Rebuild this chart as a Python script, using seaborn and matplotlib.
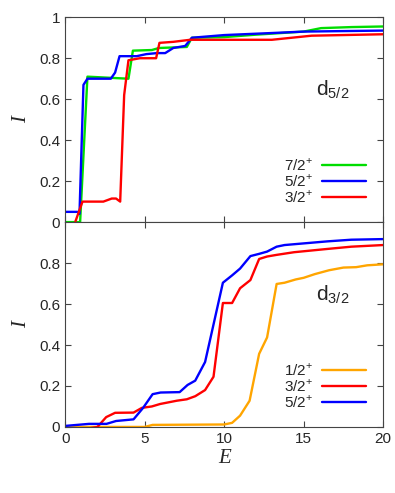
import matplotlib
matplotlib.use("Agg")
import matplotlib.pyplot as plt
import seaborn as sns
import pandas as pd

# d5/2 panel
e_72 = [0, 0.94, 1.4, 3.98, 4.26, 5.45, 5.9, 7.65, 7.97, 10, 12, 15, 16.1, 18, 20]
i_72 = [0, 0, 0.71, 0.70, 0.837, 0.84, 0.85, 0.855, 0.9, 0.903, 0.915, 0.93, 0.947, 0.952, 0.955]
e_52 = [0, 0.78, 0.9, 1.15, 1.4, 2.87, 3.14, 3.42, 4.5, 5.1, 5.77, 6.29, 6.8, 7.55, 7.97, 10, 13, 15, 20]
i_52 = [0.05, 0.05, 0.04, 0.67, 0.70, 0.70, 0.73, 0.81, 0.81, 0.82, 0.825, 0.825, 0.85, 0.86, 0.9, 0.913, 0.923, 0.93, 0.935]
e_32a = [0.63, 1.09, 2.4, 2.93, 3.2, 3.46, 3.71, 3.98, 4.7, 5.72, 5.93, 6.8, 7.86, 8.5, 13, 15.5, 20]
i_32a = [0, 0.1, 0.1, 0.115, 0.115, 0.10, 0.62, 0.79, 0.80, 0.80, 0.875, 0.88, 0.89, 0.89, 0.89, 0.91, 0.917]

# d3/2 panel
e_12 = [0, 5, 5.5, 10, 10.5, 11, 11.6, 12.2, 12.7, 13.3, 13.8, 14.5, 15, 15.7, 16.6, 17.5, 18.3, 19, 20]
i_12 = [0, 0, 0.01, 0.012, 0.02, 0.055, 0.128, 0.357, 0.437, 0.698, 0.704, 0.72, 0.728, 0.746, 0.765, 0.778, 0.78, 0.789, 0.794]
e_32b = [0.48, 1.26, 2.03, 2.58, 3.14, 4.3, 4.82, 5.45, 5.97, 7.02, 7.65, 8.18, 8.8, 9.33, 9.92, 10.5, 11, 11.65, 12.2, 12.7, 13.3, 14.4, 16.5, 18, 20]
i_32b = [-0.01, -0.01, 0, 0.048, 0.069, 0.07, 0.093, 0.10, 0.112, 0.128, 0.135, 0.15, 0.18, 0.245, 0.605, 0.605, 0.677, 0.717, 0.82, 0.832, 0.84, 0.853, 0.869, 0.88, 0.888]
e_52b = [0, 1.5, 2.6, 3.2, 4.3, 4.9, 5.5, 6.0, 7.2, 7.7, 8.18, 8.8, 9.33, 9.92, 10.5, 11, 11.65, 12.2, 12.7, 13.3, 13.8, 15, 16.5, 18, 20]
i_52b = [0.005, 0.015, 0.015, 0.029, 0.037, 0.093, 0.16, 0.168, 0.17, 0.205, 0.226, 0.317, 0.5, 0.704, 0.74, 0.773, 0.834, 0.845, 0.856, 0.88, 0.888, 0.896, 0.906, 0.914, 0.917]

colors = {"7/2$^{+}$": "#00dd00", "5/2$^{+}$": "#0000ff", "3/2$^{+}$": "#ff0000", "1/2$^{+}$": "#ffa500"}

top = pd.concat([
    pd.DataFrame({"E": e_72, "I": i_72, "J": "7/2$^{+}$"}),
    pd.DataFrame({"E": e_52, "I": i_52, "J": "5/2$^{+}$"}),
    pd.DataFrame({"E": e_32a, "I": i_32a, "J": "3/2$^{+}$"}),
])
bot = pd.concat([
    pd.DataFrame({"E": e_12, "I": i_12, "J": "1/2$^{+}$"}),
    pd.DataFrame({"E": e_32b, "I": i_32b, "J": "3/2$^{+}$"}),
    pd.DataFrame({"E": e_52b, "I": i_52b, "J": "5/2$^{+}$"}),
])

sns.set_style("ticks")
plt.rcParams["font.family"] = ["Liberation Sans", "DejaVu Sans"]
plt.rcParams["mathtext.fontset"] = "custom"
plt.rcParams["mathtext.rm"] = "Liberation Sans"

fig, (ax1, ax2) = plt.subplots(2, 1, figsize=(3.95, 4.93), dpi=100, sharex=True)
fig.subplots_adjust(left=0.165, right=0.97, top=0.965, bottom=0.134, hspace=0)

for ax, df, order in [(ax1, top, ["7/2$^{+}$", "5/2$^{+}$", "3/2$^{+}$"]),
                      (ax2, bot, ["1/2$^{+}$", "3/2$^{+}$", "5/2$^{+}$"])]:
    sns.lineplot(data=df, x="E", y="I", hue="J", hue_order=order, palette=colors,
                 estimator=None, sort=False, lw=1.7, ax=ax)
    ax.legend(loc="lower right", frameon=False, markerfirst=False, fontsize=11,
              handlelength=2.9, labelspacing=-0.05, borderaxespad=0.7, handletextpad=0.6)
    ax.set_xlim(0, 20)
    ax.set_ylim(0, 1)
    ax.set_ylabel("I", family="Liberation Serif", style="italic", fontsize=15, labelpad=6)
    ax.tick_params(direction="in", top=True, right=True, labelsize=11, length=4, color="#444")
    for s in ax.spines.values():
        s.set_color("#444")
        s.set_linewidth(0.8)

ax1.set_yticks([0, 0.2, 0.4, 0.6, 0.8, 1])
ax1.set_yticklabels(["0", "0.2", "0.4", "0.6", "0.8", "1"])
ax2.set_yticks([0, 0.2, 0.4, 0.6, 0.8])
ax2.set_yticklabels(["0", "0.2", "0.4", "0.6", "0.8"])
ax2.set_xticks([0, 5, 10, 15, 20])
ax2.set_xlabel("E", family="Liberation Serif", style="italic", fontsize=15, labelpad=2)
ax1.set_xlabel("")

ax1.text(15.8, 0.62, "d$_{5/2}$", fontsize=15)
ax2.text(15.8, 0.62, "d$_{3/2}$", fontsize=15)

fig.savefig("out.png", dpi=100)
